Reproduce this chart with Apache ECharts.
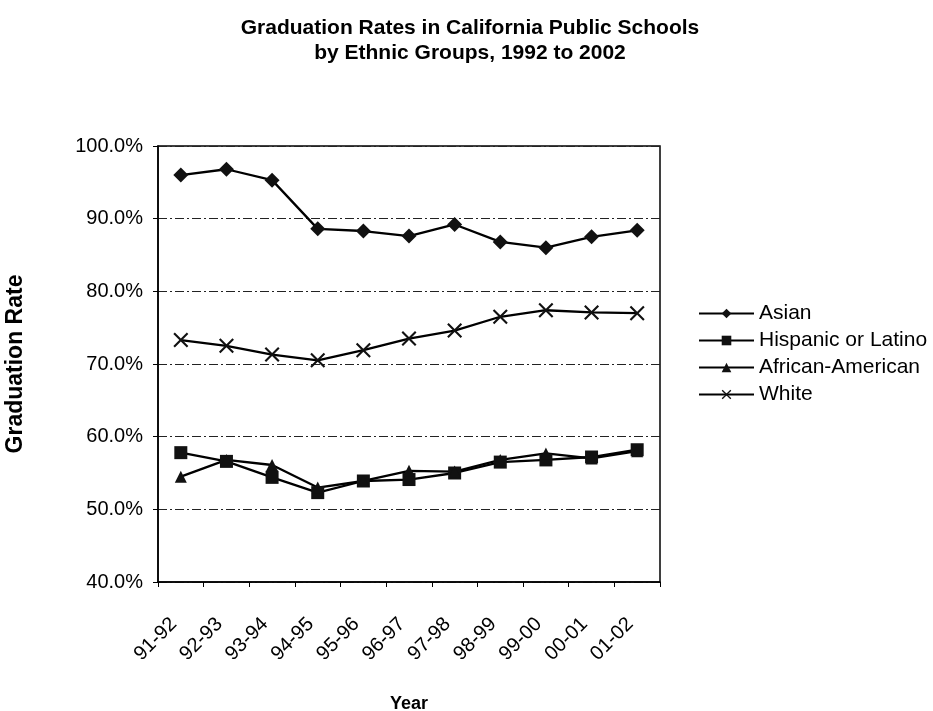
<!DOCTYPE html>
<html>
<head>
<meta charset="utf-8">
<script src="https://cdn.jsdelivr.net/npm/echarts@6/dist/echarts.min.js"></script>
<style>
html,body{margin:0;padding:0;background:#fff;}
#chart{width:933px;height:711px;}
</style>
</head>
<body>
<div id="chart"></div>
<script>
const categories = ['91-92','92-93','93-94','94-95','95-96','96-97','97-98','98-99','99-00','00-01','01-02'];
const asian = [96.0, 96.8, 95.3, 88.6, 88.3, 87.6, 89.2, 86.8, 86.0, 87.5, 88.4];
const hispanic = [57.8, 56.6, 54.4, 52.3, 53.9, 54.1, 55.0, 56.5, 56.8, 57.2, 58.2];
const african = [54.5, 56.8, 56.1, 53.0, 53.9, 55.3, 55.2, 56.8, 57.7, 57.0, 58.0];
const white = [73.3, 72.5, 71.3, 70.5, 71.9, 73.5, 74.6, 76.5, 77.4, 77.1, 77.0];
const seriesNames = ['Asian', 'Hispanic or Latino', 'African-American', 'White'];
const yTicks = {min: 40, max: 100, interval: 10};

const xPath = 'path://M0,1 L1,0 L5,4 L9,0 L10,1 L6,5 L10,9 L9,10 L5,6 L1,10 L0,9 L4,5 Z';

const font = '"Liberation Sans", Arial, sans-serif';
const chart = echarts.init(document.getElementById('chart'));

function mk(name, data, symbol, size) {
  return {
    name: name,
    type: 'line',
    data: data,
    symbol: symbol,
    symbolSize: size,
    showSymbol: true,
    lineStyle: {color: '#000', width: 2.3},
    itemStyle: {color: '#111', borderColor: '#000', borderWidth: 0},
    emphasis: {disabled: true},
    animation: false
  };
}

chart.setOption({
  backgroundColor: '#fff',
  animation: false,
  title: {
    text: 'Graduation Rates in California Public Schools\nby Ethnic Groups, 1992 to 2002',
    left: 465,
    textAlign: 'center',
    top: 11,
    textStyle: {fontFamily: font, fontSize: 21, fontWeight: 'bold', color: '#000', lineHeight: 25}
  },
  legend: {
    orient: 'vertical',
    left: 693,
    top: 298,
    itemGap: 6,
    itemWidth: 55,
    itemHeight: 12,
    textStyle: {fontFamily: font, fontSize: 21, color: '#000', lineHeight: 21},
    data: seriesNames
  },
  grid: {
    left: 158,
    right: 273,
    top: 146,
    bottom: 129,
    outerBoundsMode: 'none',
    containLabel: false,
    show: true,
    borderColor: '#000',
    borderWidth: 1.5,
    backgroundColor: 'transparent'
  },
  xAxis: {
    type: 'category',
    data: categories,
    boundaryGap: true,
    name: 'Year',
    nameLocation: 'middle',
    nameGap: 113,
    nameTextStyle: {fontFamily: font, fontSize: 18, fontWeight: 'bold', color: '#000'},
    axisLine: {lineStyle: {color: '#000', width: 1.5}},
    axisTick: {show: true, length: 5, lineStyle: {color: '#000'}},
    axisLabel: {rotate: 45, fontFamily: font, fontSize: 20, color: '#000', margin: 32, interval: 0,
      padding: [0, 10, 0, 0]},
    splitLine: {show: false}
  },
  yAxis: {
    type: 'value',
    min: yTicks.min,
    max: yTicks.max,
    interval: yTicks.interval,
    name: 'Graduation Rate',
    nameLocation: 'middle',
    nameGap: 131,
    nameRotate: 90,
    nameTextStyle: {fontFamily: font, fontSize: 23, fontWeight: 'bold', color: '#000'},
    axisLine: {show: true, lineStyle: {color: '#000', width: 1.5}},
    axisTick: {show: true, length: 5, lineStyle: {color: '#000'}},
    axisLabel: {fontFamily: font, fontSize: 20, color: '#000', margin: 15,
      formatter: v => v.toFixed(1) + '%'},
    splitLine: {show: true, lineStyle: {color: '#222', width: 1, type: [9, 3, 2, 3]}}
  },
  series: [
    mk(seriesNames[0], asian, 'diamond', 15),
    mk(seriesNames[1], hispanic, 'rect', 13),
    mk(seriesNames[2], african, 'triangle', 12),
    mk(seriesNames[3], white, xPath, 15)
  ]
});
</script>
</body>
</html>
